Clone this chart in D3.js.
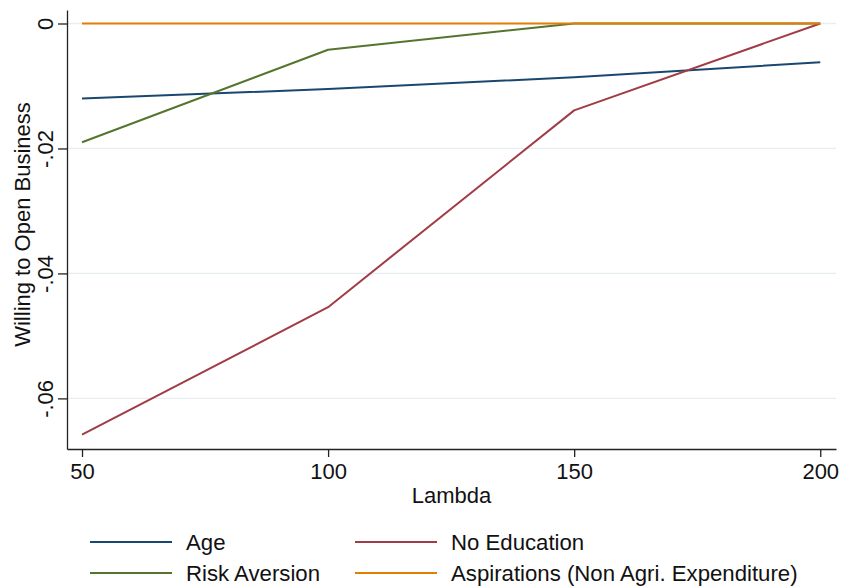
<!DOCTYPE html>
<html>
<head>
<meta charset="utf-8">
<script src="https://cdn.jsdelivr.net/npm/d3@7"></script>
<style>
  html, body { margin: 0; padding: 0; background: #fff; }
  svg { display: block; font-family: "Liberation Sans", Arial, Helvetica, sans-serif; }
</style>
</head>
<body>
<svg id="chart" width="842" height="588"></svg>
<script>
// Lambda values on the x axis
const lambda = [50, 100, 150, 200];

// Effect on willingness to open a business, one array per series
const age          = [-0.0120, -0.0105, -0.0086, -0.0062];
const noEducation  = [-0.0658, -0.0454, -0.0139, 0.0000];
const riskAversion = [-0.0190, -0.0042, 0.0000, 0.0000];
const aspirations  = [0.0000, 0.0000, 0.0000, 0.0000];

// Axis ticks and their labels
const xTicks = [50, 100, 150, 200];
const yTicks = [0, -0.02, -0.04, -0.06];
const yTickLabels = ["0", "-.02", "-.04", "-.06"];

// Legend order (two columns, two rows)
const seriesNames = ["Age", "No Education", "Risk Aversion", "Aspirations (Non Agri. Expenditure)"];
const seriesValues = [age, noEducation, riskAversion, aspirations];
const seriesColors = ["#1a476f", "#a03c45", "#55752f", "#e37e00"];

const svg = d3.select("#chart");

const plot = { left: 67, right: 836, top: 10, bottom: 449 };

const x = d3.scaleLinear().domain([46.95, 203.2]).range([plot.left, plot.right]);
const y = d3.scaleLinear().domain([-0.0681, 0.00216]).range([plot.bottom, plot.top]);

// Horizontal grid lines
svg.append("g")
  .selectAll("line")
  .data(yTicks)
  .join("line")
  .attr("x1", plot.left)
  .attr("x2", plot.right)
  .attr("y1", d => y(d))
  .attr("y2", d => y(d))
  .attr("stroke", "#e6eef1")
  .attr("stroke-width", 1.3);

// Series lines
const line = d3.line()
  .x((d, i) => x(lambda[i]))
  .y(d => y(d));

// Draw order: age, risk aversion, no education, aspirations on top
const drawOrder = [0, 2, 1, 3];
svg.append("g")
  .selectAll("path")
  .data(drawOrder)
  .join("path")
  .attr("d", k => line(seriesValues[k]))
  .attr("fill", "none")
  .attr("stroke", k => seriesColors[k])
  .attr("stroke-width", 2)
  .attr("stroke-linejoin", "round");

// Y axis
const yAxis = d3.axisLeft(y)
  .tickValues(yTicks)
  .tickFormat((d, i) => yTickLabels[i])
  .tickSize(9)
  .tickPadding(5)
  .tickSizeOuter(0);

const gy = svg.append("g")
  .attr("transform", `translate(${plot.left},0)`)
  .call(yAxis);
gy.select(".domain").attr("stroke", "#222").attr("stroke-width", 1.3);
gy.selectAll(".tick line").attr("stroke", "#222").attr("stroke-width", 1.3);
gy.selectAll(".tick text")
  .attr("font-size", 22)
  .attr("fill", "#111")
  .attr("x", null)
  .attr("dy", null)
  .attr("text-anchor", "middle")
  .attr("transform", "translate(-14,0) rotate(-90)");

// X axis
const xAxis = d3.axisBottom(x)
  .tickValues(xTicks)
  .tickFormat(d3.format("d"))
  .tickSize(8)
  .tickPadding(6)
  .tickSizeOuter(0);

const gx = svg.append("g")
  .attr("transform", `translate(0,${plot.bottom})`)
  .call(xAxis);
gx.select(".domain").attr("stroke", "#222").attr("stroke-width", 1.3);
gx.selectAll(".tick line").attr("stroke", "#222").attr("stroke-width", 1.3);
gx.selectAll(".tick text").attr("font-size", 22).attr("fill", "#111");

// Axis titles
svg.append("text")
  .attr("x", (plot.left + plot.right) / 2)
  .attr("y", 503)
  .attr("text-anchor", "middle")
  .attr("font-size", 22)
  .attr("fill", "#111")
  .text("Lambda");

svg.append("text")
  .attr("transform", `translate(30,${(plot.top + plot.bottom) / 2 - 5}) rotate(-90)`)
  .attr("text-anchor", "middle")
  .attr("font-size", 22)
  .attr("fill", "#111")
  .text("Willing to Open Business");

// Legend
const legendCols = [90, 355];
const legendRows = [542, 573];
const legend = svg.append("g")
  .selectAll("g")
  .data(seriesNames.map((name, i) => ({ name, i })))
  .join("g")
  .attr("transform", d => `translate(${legendCols[d.i % 2]},${legendRows[Math.floor(d.i / 2)]})`);

legend.append("line")
  .attr("x1", 0)
  .attr("x2", 82)
  .attr("stroke", d => seriesColors[d.i])
  .attr("stroke-width", 2);

legend.append("text")
  .attr("x", 96)
  .attr("y", 8)
  .attr("font-size", 22.2)
  .attr("fill", "#111")
  .text(d => d.name);
</script>
</body>
</html>
